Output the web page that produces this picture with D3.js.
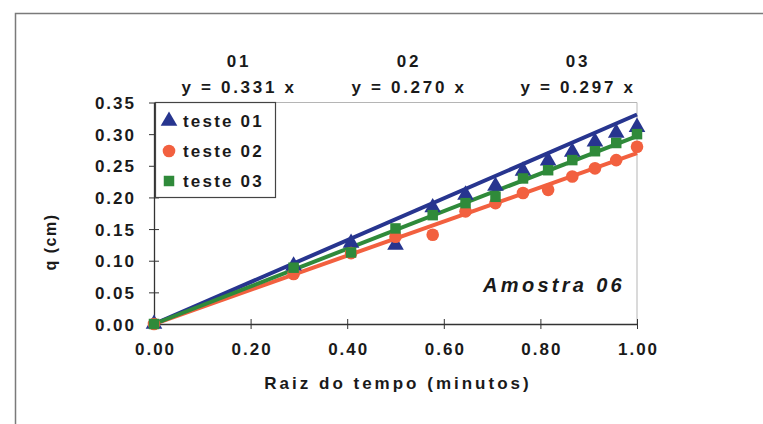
<!DOCTYPE html>
<html>
<head>
<meta charset="utf-8">
<script src="https://cdn.jsdelivr.net/npm/d3@7"></script>
<style>
  html, body { margin: 0; padding: 0; background: #fff; }
  svg { display: block; }
  text { font-family: "Liberation Sans", Arial, sans-serif; font-weight: bold; fill: #1a1a1a; }
</style>
</head>
<body>
<svg id="chart" width="763" height="424"></svg>
<script>
// Square root of time (minutes) at each reading
const rootTime = [0, 0.289, 0.408, 0.5, 0.577, 0.645, 0.707, 0.764, 0.816, 0.866, 0.913, 0.957, 1.0];

// Measured penetration q (cm) for each test
const teste01 = [0, 0.092, 0.128, 0.125, 0.184, 0.204, 0.218, 0.242, 0.258, 0.272, 0.288, 0.302, 0.311];
const teste02 = [0, 0.079, 0.112, 0.138, 0.141, 0.178, 0.191, 0.207, 0.212, 0.233, 0.246, 0.259, 0.280];
const teste03 = [0, 0.089, 0.113, 0.151, 0.172, 0.191, 0.201, 0.230, 0.243, 0.259, 0.273, 0.286, 0.300];

// Trendline slopes (y = a x)
const seriesNames = ["teste 01", "teste 02", "teste 03"];
const seriesCodes = ["01", "02", "03"];
const slopes = [0.331, 0.270, 0.297];
const colors = ["#27358f", "#f2603f", "#2f8a3a"];
const shapes = [d3.symbolTriangle, d3.symbolCircle, d3.symbolSquare];

const xTicks = [0, 0.2, 0.4, 0.6, 0.8, 1.0];
const yTicks = [0, 0.05, 0.10, 0.15, 0.20, 0.25, 0.30, 0.35];

const seriesValues = [teste01, teste02, teste03];

const svg = d3.select("#chart");

// outer frame (left + top edges)
svg.append("path")
  .attr("d", "M15.5,424 V13.5 H763")
  .attr("fill", "none").attr("stroke", "#7a7a7a").attr("stroke-width", 1.5);

const x = d3.scaleLinear().domain([0, 1]).range([154, 637]);
const y = d3.scaleLinear().domain([0, 0.35]).range([324, 102.5]);

// plot area border (top + right), light
svg.append("path")
  .attr("d", `M${x(0)},${y(0.35)} H${x(1)} V${y(0)}`)
  .attr("fill", "none").attr("stroke", "#b5b5b5").attr("stroke-width", 1);

// y axis
const yAxis = d3.axisLeft(y).tickValues(yTicks).tickFormat(d3.format(".2f"))
  .tickSizeInner(5).tickSizeOuter(0).tickPadding(16);
const gy = svg.append("g").attr("transform", `translate(${x(0)},0)`).call(yAxis);
gy.select(".domain").attr("stroke", "#333").attr("stroke-width", 1.3);
gy.selectAll(".tick line").attr("stroke", "#333").attr("x2", -5).attr("x1", 5);
gy.selectAll(".tick text")
  .style("font-size", "17px").style("letter-spacing", "2px")
  .attr("x", -18).attr("dy", "0.36em").attr("fill", "#1a1a1a");

// x axis
const xAxis = d3.axisBottom(x).tickValues(xTicks).tickFormat(d3.format(".2f"))
  .tickSizeInner(5).tickSizeOuter(0).tickPadding(14);
const gx = svg.append("g").attr("transform", `translate(0,${y(0)})`).call(xAxis);
gx.select(".domain").attr("stroke", "#333").attr("stroke-width", 1.3);
gx.selectAll(".tick line").attr("stroke", "#333").attr("y1", -5).attr("y2", 5);
gx.selectAll(".tick text")
  .style("font-size", "17px").style("letter-spacing", "2px")
  .attr("fill", "#1a1a1a").attr("dx", "1px");

// trendlines
const lineGen = d3.line().x(d => x(d[0])).y(d => y(d[1]));
const drawOrder = [1, 0, 2];
drawOrder.forEach(i => {
  svg.append("path")
    .attr("d", lineGen([[0, 0], [1, slopes[i]]]))
    .attr("fill", "none").attr("stroke", colors[i]).attr("stroke-width", 4);
});

// markers
const symbolSize = [120, 125, 110];
seriesValues.forEach((vals, i) => {
  const sym = d3.symbol().type(shapes[i]).size(symbolSize[i]);
  svg.append("g").selectAll("path")
    .data(vals.map((v, k) => [rootTime[k], v]))
    .join("path")
    .attr("d", sym)
    .attr("transform", d => `translate(${x(d[0])},${y(d[1])})`)
    .attr("fill", colors[i]);
});

// trendline equations above the plot
const eqX = [238, 408, 577];
seriesCodes.forEach((c, i) => {
  svg.append("text").attr("x", eqX[i] + 1).attr("y", 67).attr("text-anchor", "middle")
    .style("font-size", "17px").style("letter-spacing", "2.7px").text(c);
  svg.append("text").attr("x", eqX[i] + 1).attr("y", 93).attr("text-anchor", "middle")
    .style("font-size", "17px").style("letter-spacing", "2.7px")
    .text(`y = ${slopes[i].toFixed(3)} x`);
});

// legend
const lg = svg.append("g");
lg.append("rect").attr("x", 155.5).attr("y", 102.5).attr("width", 120).attr("height", 95)
  .attr("fill", "#fff").attr("stroke", "#444").attr("stroke-width", 1.2);
const legY = [121, 151, 181];
seriesNames.forEach((n, i) => {
  lg.append("path").attr("d", d3.symbol().type(shapes[i]).size(symbolSize[i]))
    .attr("transform", `translate(169,${legY[i]})`).attr("fill", colors[i]);
  lg.append("text").attr("x", 183).attr("y", legY[i] + 6)
    .style("font-size", "17px").style("letter-spacing", "2.2px").text(n);
});

// sample label
svg.append("text").attr("x", 625).attr("y", 292).attr("text-anchor", "end")
  .style("font-size", "20px").style("font-style", "italic").style("letter-spacing", "3.3px")
  .text("Amostra 06");

// axis titles
svg.append("text").attr("x", 398).attr("y", 389).attr("text-anchor", "middle")
  .style("font-size", "17px").style("letter-spacing", "3px")
  .text("Raiz do tempo (minutos)");
svg.append("text").attr("transform", "translate(56,242) rotate(-90)").attr("text-anchor", "middle")
  .style("font-size", "16px").style("letter-spacing", "1.5px")
  .text("q (cm)");
</script>
</body>
</html>
